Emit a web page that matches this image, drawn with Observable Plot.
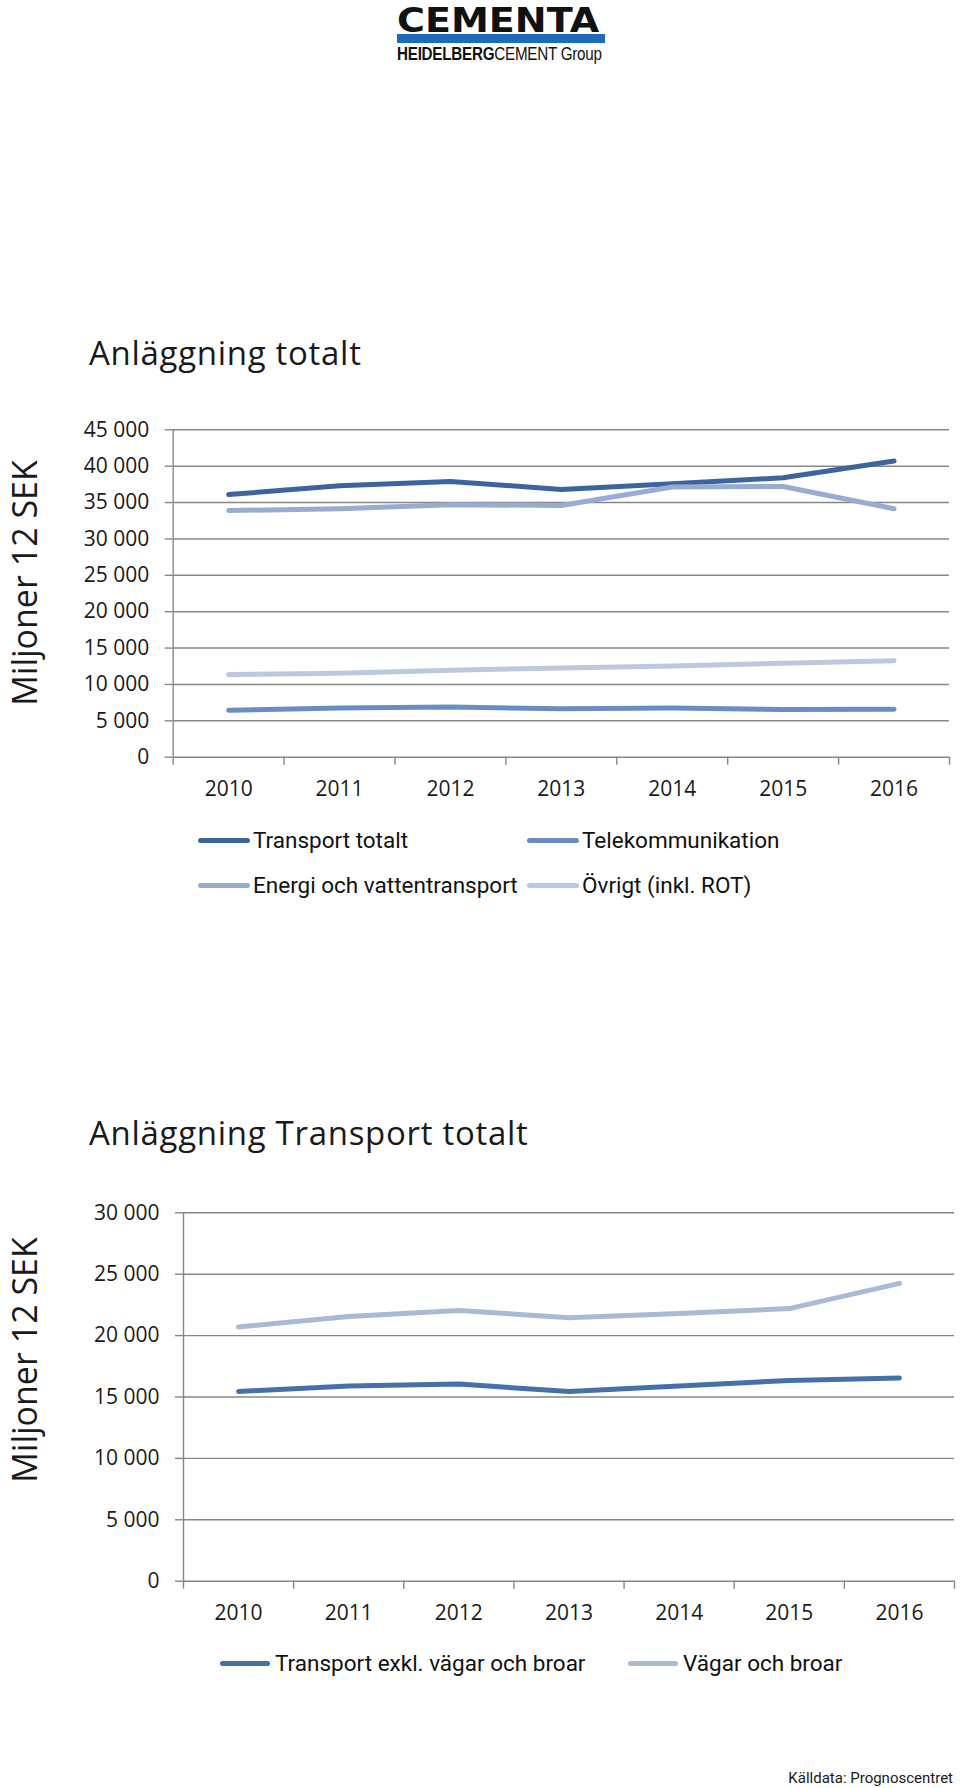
<!DOCTYPE html>
<html><head><meta charset="utf-8">
<script src="https://cdn.jsdelivr.net/npm/d3@7"></script>
<script src="https://cdn.jsdelivr.net/npm/@observablehq/plot@0.6"></script>
<style>
body{margin:0;background:#fff;}
#page{position:relative;width:960px;height:1788px;overflow:hidden;background:#fff;font-family:'Open Sans',sans-serif;color:#1a1a1a;}
.abs{position:absolute;white-space:nowrap;}
.title{font-size:33px;line-height:33px;letter-spacing:0.7px;color:#1a1a1a;}
.ylab{font-size:34px;line-height:30px;writing-mode:vertical-rl;transform:translate(-50%,-50%) rotate(180deg);}
.leg{display:flex;align-items:center;font-family:Roboto,sans-serif;font-size:22.5px;line-height:23px;color:#111;}
.sw{width:52px;height:5px;border-radius:3px;margin-right:3px;}
</style></head><body><div id="page"></div>
<script>
// ---- data ----
const years = [2010, 2011, 2012, 2013, 2014, 2015, 2016];
const transportTotalt   = [36100, 37300, 37900, 36800, 37600, 38400, 40700];
const telekommunikation = [6450, 6750, 6900, 6650, 6750, 6550, 6600];
const energiVatten      = [33900, 34150, 34700, 34600, 37150, 37200, 34150];
const ovrigt            = [11350, 11550, 11950, 12250, 12550, 12900, 13250];
const names1 = ["Transport totalt", "Telekommunikation", "Energi och vattentransport", "Övrigt (inkl. ROT)"];
const colors1 = ["#3c649f", "#6a8ec3", "#98acd1", "#bcc8dd"];
const yTicks1 = [0, 5000, 10000, 15000, 20000, 25000, 30000, 35000, 40000, 45000];

const transportExkl = [15450, 15900, 16050, 15450, 15900, 16350, 16550];
const vagarBroar    = [20700, 21550, 22050, 21450, 21800, 22200, 24250];
const names2 = ["Transport exkl. vägar och broar", "Vägar och broar"];
const colors2 = ["#4670aa", "#aab9d5"];
const yTicks2 = [0, 5000, 10000, 15000, 20000, 25000, 30000];

const yearBounds = [2009.5, 2010.5, 2011.5, 2012.5, 2013.5, 2014.5, 2015.5, 2016.5];

const page = document.getElementById("page");
const fmt = d => d3.format(",")(d).replace(/,/g, " ");
function el(cls, style, html) {
  const d = document.createElement("div");
  d.className = cls;
  Object.assign(d.style, style);
  if (html !== undefined) d.innerHTML = html;
  page.appendChild(d);
  return d;
}

// ---- logo ----
el("abs", {left: "397px", top: "0px", fontFamily: "'DejaVu Sans',sans-serif", fontWeight: "bold", fontSize: "34px", color: "#111", transform: "scaleX(1.12)", transformOrigin: "left top"}, "CEMENTA");
el("abs", {left: "397px", top: "34px", width: "208px", height: "9px", background: "#1e6bbd"});
el("abs", {left: "397px", top: "44px", fontFamily: "'Liberation Sans',sans-serif", fontSize: "19px", lineHeight: "19px", color: "#111", transform: "scaleX(0.8)", transformOrigin: "left top", letterSpacing: "-0.3px"},
  "<b>HEIDELBERG</b>CEMENT Group");

function chart({top, height, mt, mb, ml, mr, yMax, yTicks, names, colors, series, tickPadY, tickPadX}) {
  const data = names.flatMap((n, i) => years.map((yr, j) => ({series: n, year: yr, value: series[i][j]})));
  const grid = "#878787";
  const svg = Plot.plot({
    width: 960, height,
    marginTop: mt, marginBottom: mb, marginLeft: ml, marginRight: mr,
    x: {domain: [2009.5, 2016.5], label: null},
    y: {domain: [0, yMax], label: null},
    color: {domain: names, range: colors},
    style: {fontFamily: "'Open Sans',sans-serif", color: "#1a1a1a", background: "transparent", overflow: "visible"},
    marks: [
      Plot.ruleY(yTicks, {stroke: grid, strokeWidth: 1.4}),
      Plot.ruleX([2009.5], {stroke: grid, strokeWidth: 1.4}),
      Plot.axisY({ticks: yTicks, tickSize: 8, tickFormat: () => "", stroke: grid, strokeWidth: 1.4, label: null}),
      Plot.axisY({ticks: yTicks, tickSize: 0, tickPadding: tickPadY, tickFormat: fmt, fontSize: 21, fill: "#1a1a1a", label: null}),
      Plot.axisX({ticks: yearBounds, tickSize: 8, tickFormat: () => "", stroke: grid, strokeWidth: 1.4, label: null}),
      Plot.axisX({ticks: years, tickSize: 0, tickPadding: tickPadX, tickFormat: d => String(d), fontSize: 21, fill: "#1a1a1a", label: null}),
      Plot.lineY(data, {x: "year", y: "value", z: "series", stroke: "series", strokeWidth: 5, strokeLinecap: "round", strokeLinejoin: "round"})
    ]
  });
  svg.style.position = "absolute";
  svg.style.left = "0px";
  svg.style.top = top + "px";
  page.appendChild(svg);
}

// ---- chart 1 ----
el("abs title", {left: "89px", top: "335.5px"}, "Anläggning totalt");
el("abs ylab", {left: "23.5px", top: "583px"}, "Miljoner 12 SEK");
chart({top: 400, height: 410, mt: 29.3, mb: 53.3, ml: 172.7, mr: 11, yMax: 45000, yTicks: yTicks1,
  names: names1, colors: colors1, series: [transportTotalt, telekommunikation, energiVatten, ovrigt], tickPadY: 24, tickPadX: 24});
const leg1 = [[198, 828.5], [527, 828.5], [198, 873.5], [527, 873.5]];
names1.forEach((n, i) => {
  el("abs leg", {left: leg1[i][0] + "px", top: leg1[i][1] + "px"}, `<span class="sw" style="background:${colors1[i]}"></span><span>${n}</span>`);
});

// ---- chart 2 ----
el("abs title", {left: "89px", top: "1115.5px"}, "Anläggning Transport totalt");
el("abs ylab", {left: "23.5px", top: "1360px"}, "Miljoner 12 SEK");
chart({top: 1180, height: 452.7, mt: 32.3, mb: 52, ml: 183, mr: 6, yMax: 30000, yTicks: yTicks2,
  names: names2, colors: colors2, series: [transportExkl, vagarBroar], tickPadY: 24, tickPadX: 24});
const leg2 = [[220, 1651.5], [628, 1651.5]];
names2.forEach((n, i) => {
  el("abs leg", {left: leg2[i][0] + "px", top: leg2[i][1] + "px"}, `<span class="sw" style="background:${colors2[i]};width:50px;margin-right:5px"></span><span>${n}</span>`);
});

// ---- source ----
el("abs", {right: "7px", top: "1769px", fontSize: "15px", lineHeight: "18px", fontFamily: "Roboto,sans-serif", color: "#1a1a1a"}, "Källdata: Prognoscentret");
</script></body></html>
